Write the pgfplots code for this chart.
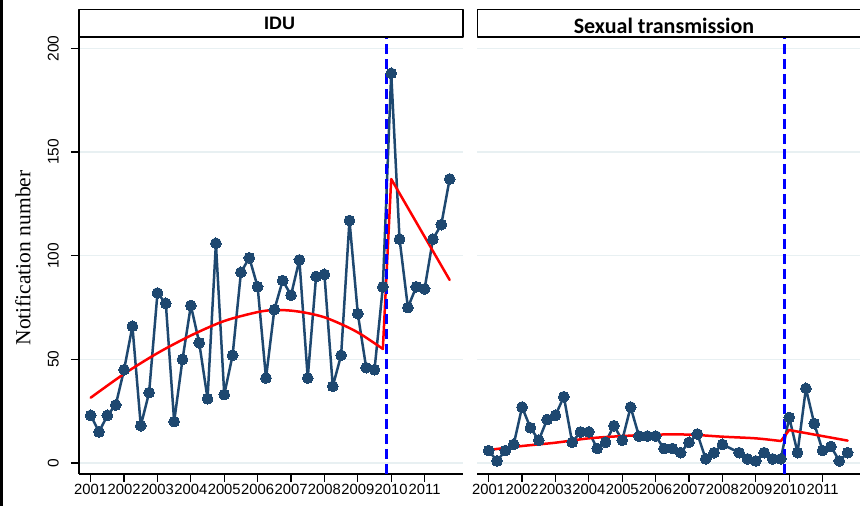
\documentclass[border=0pt]{standalone}
\usepackage{fontspec}
\setmainfont{Liberation Sans}
\newfontfamily\seriffont{Liberation Serif}
\newfontfamily\calib{Carlito}
\usepackage{pgfplots}
\usepackage{pgfplotstable}
\pgfplotsset{compat=1.18}
\definecolor{navy}{RGB}{30,72,112}
\definecolor{gridc}{RGB}{232,240,242}

\pgfplotstableread{
k v
0 23
1 15
2 23
3 28
4 45
5 66
6 18
7 34
8 82
9 77
10 20
11 50
12 76
13 58
14 31
15 106
16 33
17 52
18 92
19 99
20 85
21 41
22 74
23 88
24 81
25 98
26 41
27 90
28 91
29 37
30 52
31 117
32 72
33 46
34 45
35 85
36 188
37 108
38 75
39 85
40 84
41 108
42 115
43 137
}\idu

\pgfplotstableread{
k v
0 6
1 1
2 6
3 9
4 27
5 17
6 11
7 21
8 23
9 32
10 10
11 15
12 15
13 7
14 10
15 18
16 11
17 27
18 13
19 13
20 13
21 7
22 7
23 5
24 10
25 14
26 2
27 5
28 9
30 5
31 2
32 1
33 5
34 2
35 2
36 22
37 5
38 36
39 19
40 6
41 8
42 1
43 5
}\sex

\pgfplotsset{panel/.style={
  scale only axis, width=384pt, height=437pt, anchor=south west,
  xmin=-1.4, xmax=44.6, ymin=-5.3, ymax=205.5,
  xtick={0,4,8,12,16,20,24,28,32,36,40},
  xticklabels={2001,2002,2003,2004,2005,2006,2007,2008,2009,2010,2011},
  ytick={0,50,100,150,200},
  ymajorgrids, grid style={gridc, line width=1.5pt},
  tick align=outside, major tick length=8pt,
  tick style={black, line width=1.2pt},
  axis line style={black, line width=1.3pt, -},
  axis x line*=bottom,
  x tick label style={font=\fontsize{14.8}{15}\selectfont, inner sep=2pt},
  /pgf/number format/assume math mode=true,
  every axis plot/.append style={line join=round, line cap=round},
  clip=false,
}}

\begin{document}
\begin{tikzpicture}[line join=round]
\path[use as bounding box] (0,0) rectangle (860pt,506pt);
\fill[black] (0,0) rectangle (2.6pt,506pt);

% Left panel: IDU
\begin{axis}[panel, at={(79pt,32pt)},
  axis y line*=left,
  y tick label style={font=\fontsize{15.5}{16}\selectfont, rotate=90, anchor=south, inner sep=3pt},
  yticklabel shift=9pt,
]
\addplot[navy, line width=2.5pt, mark=*, mark size=5.4pt,
  mark options={fill=navy, draw=navy, line width=0pt}] table[x=k, y=v]{\idu};
\addplot[red, line width=2.5pt, smooth, no marks] coordinates {
  (0,31.5) (4,43) (8,53) (12,61.5) (16,68.5) (20,72.8) (22,73.8) (24,73.5)
  (26,72.3) (28,70.3) (30,67) (32,63) (34,57.8) (35,55)};
\addplot[red, line width=2.5pt, no marks] coordinates {(35,55) (36,137) (43,88.3)};
\addplot[blue, line width=2.5pt, line cap=butt, dash pattern=on 10pt off 5pt, no marks]
  coordinates {(35.45,-5.3) (35.45,205.5)};
\end{axis}

% Right panel: Sexual transmission
\begin{axis}[panel, at={(477pt,32pt)},
  axis y line*=left, y axis line style={draw=none}, ytick style={draw=none},
  yticklabels={},
]
\addplot[navy, line width=2.5pt, mark=*, mark size=5.4pt,
  mark options={fill=navy, draw=navy, line width=0pt}] table[x=k, y=v]{\sex};
\addplot[red, line width=2.5pt, smooth, no marks] coordinates {
  (0,6.3) (4,8.2) (8,9.8) (12,11.9) (16,13) (20,13.7) (24,13.7) (28,12.7)
  (32,11.9) (35,10.6)};
\addplot[red, line width=2.5pt, no marks] coordinates {(35,10.6) (36,15.9) (43,10.8)};
\addplot[blue, line width=2.5pt, line cap=butt, dash pattern=on 10pt off 5pt, no marks]
  coordinates {(35.45,-5.3) (35.45,205.5)};
\end{axis}

% strip headers
\draw[black, line width=1.4pt] (79pt,469pt) rectangle (463pt,496.7pt);
\draw[black, line width=1.4pt] (477.3pt,469pt) rectangle (875pt,496.7pt);
\node[font=\fontsize{18}{20}\selectfont\bfseries] at (279.5pt,482.6pt) {IDU};
\node[font=\fontsize{22}{24}\calib\bfseries] at (664pt,480pt) {Sexual transmission};

% y label
\node[rotate=90, font=\fontsize{21.5}{23}\seriffont] at (23pt,248pt) {Notification number};
\end{tikzpicture}
\end{document}
